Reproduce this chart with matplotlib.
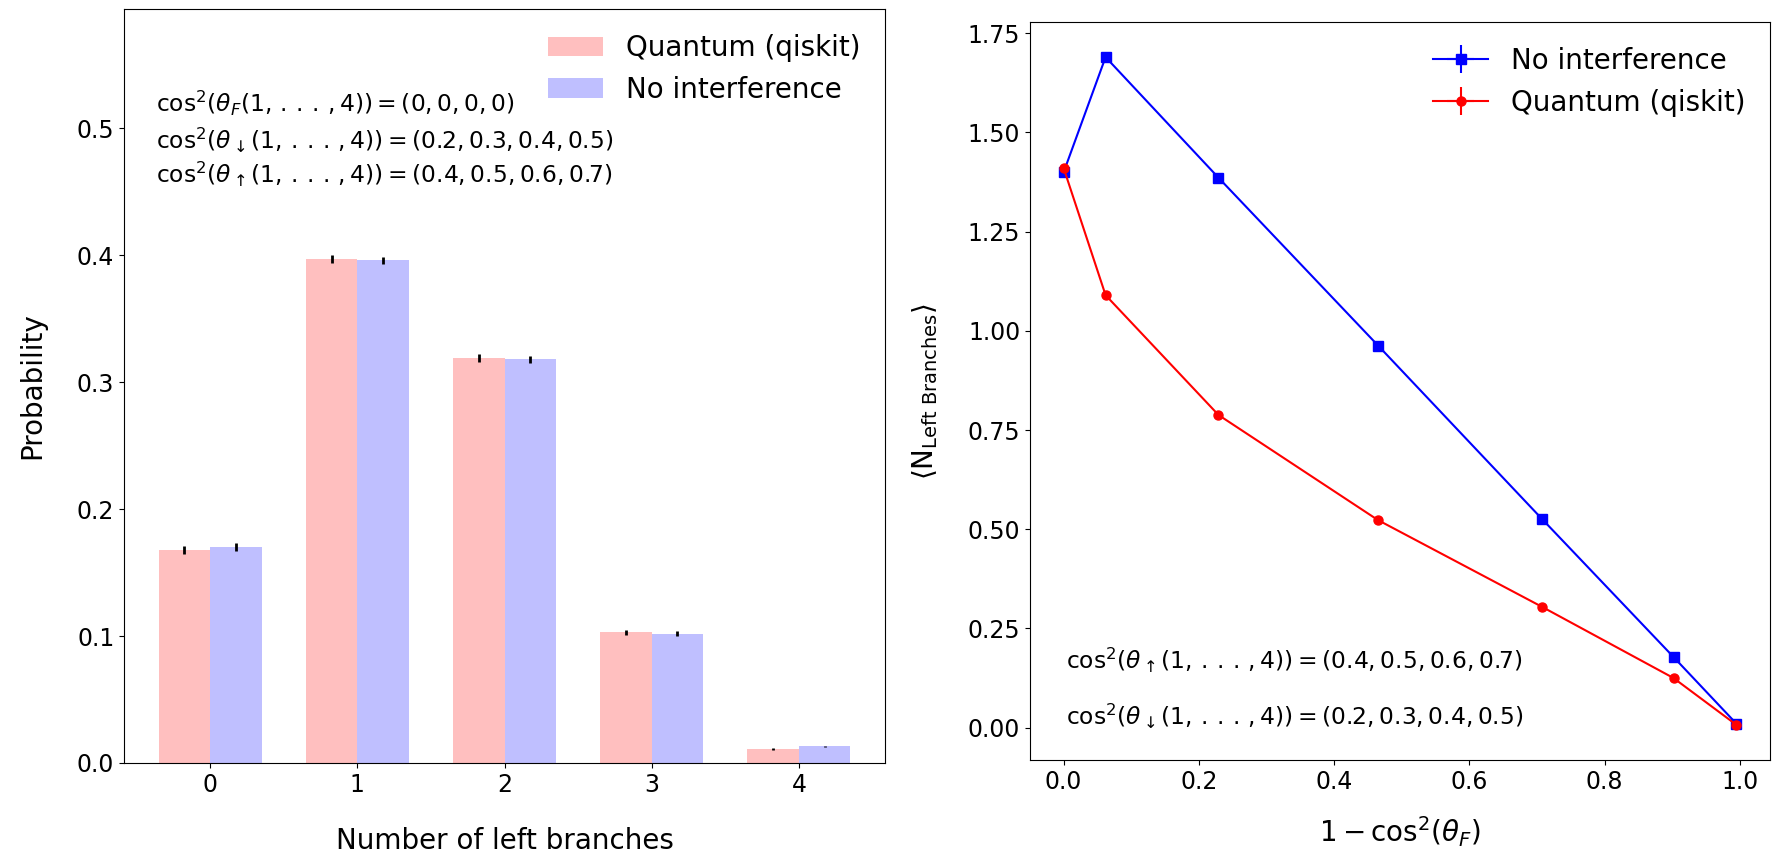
import numpy as np
import matplotlib
matplotlib.use("Agg")
import matplotlib.pyplot as plt

# ---- Left panel data ----
branches = [0, 1, 2, 3, 4]
prob_quantum = [0.168, 0.397, 0.319, 0.103, 0.011]
prob_quantum_err = [0.003, 0.003, 0.003, 0.002, 0.0005]
prob_noint = [0.170, 0.396, 0.318, 0.102, 0.013]
prob_noint_err = [0.003, 0.003, 0.003, 0.002, 0.0005]

# ---- Right panel data ----
one_minus_cos2F = [0.0, 0.062, 0.229, 0.465, 0.708, 0.902, 0.995]
n_left_noint = [1.400, 1.690, 1.386, 0.963, 0.525, 0.178, 0.010]
n_left_quantum = [1.410, 1.090, 0.788, 0.523, 0.304, 0.125, 0.007]
n_err = [0.004, 0.004, 0.004, 0.004, 0.004, 0.004, 0.004]
x_err = [0.0, 0.0, 0.0, 0.0, 0.0, 0.0, 0.0]

fig = plt.figure(figsize=(17.75, 8.52), dpi=100)
ax1 = fig.add_axes([0.0699, 0.1045, 0.4287, 0.8849])
ax2 = fig.add_axes([0.5803, 0.108, 0.4169, 0.8662])

TICK = 17
LEG = 20
LAB = 20
ANN = 16.8

DOTS = r'1,\,.\,.\,.\,,4'

w = 0.35
x = np.array(branches)
ax1.bar(x - w / 2, prob_quantum, w, color='r', alpha=0.25, yerr=prob_quantum_err,
        error_kw=dict(ecolor='black', elinewidth=2, alpha=1), label='Quantum (qiskit)')
ax1.bar(x + w / 2, prob_noint, w, color='b', alpha=0.25, yerr=prob_noint_err,
        error_kw=dict(ecolor='black', elinewidth=2, alpha=1), label='No interference')
ax1.set_xticks(branches)
ax1.set_ylim(0, 0.594)
ax1.set_yticks([0.0, 0.1, 0.2, 0.3, 0.4, 0.5])
ax1.tick_params(labelsize=TICK)
ax1.set_xlabel('Number of left branches', fontsize=LAB, labelpad=22)
ax1.set_ylabel('Probability', fontsize=LAB, labelpad=22)
ax1.legend(fontsize=LEG, frameon=False, loc='upper right')
ax1.text(0.042, 0.875, r'$\mathrm{cos}^2(\theta_F(' + DOTS + r'))=(0,0,0,0)$', transform=ax1.transAxes,
         fontsize=ANN, va='center')
ax1.text(0.042, 0.826, r'$\mathrm{cos}^2(\theta_\downarrow(' + DOTS + r'))=(0.2,0.3,0.4,0.5)$',
         transform=ax1.transAxes, fontsize=ANN, va='center')
ax1.text(0.042, 0.78, r'$\mathrm{cos}^2(\theta_\uparrow(' + DOTS + r'))=(0.4,0.5,0.6,0.7)$',
         transform=ax1.transAxes, fontsize=ANN, va='center')

ax2.errorbar(one_minus_cos2F, n_left_noint, yerr=n_err, xerr=x_err, color='b', marker='s',
             markersize=6.5, lw=1.5, label='No interference')
ax2.errorbar(one_minus_cos2F, n_left_quantum, yerr=n_err, xerr=x_err, color='r', marker='o',
             markersize=6.5, lw=1.5, label='Quantum (qiskit)')
ax2.tick_params(labelsize=TICK)
ax2.set_xlabel(r'$1-\mathrm{cos}^2(\theta_F)$', fontsize=LAB, labelpad=15)
ax2.set_ylabel(r'$\langle \mathrm{N}_{\mathrm{Left\ Branches}}\rangle$', fontsize=LAB, labelpad=20)
ax2.legend(fontsize=LEG, frameon=False, loc='upper right')
ax2.text(0.003, 0.17, r'$\mathrm{cos}^2(\theta_\uparrow(' + DOTS + r'))=(0.4,0.5,0.6,0.7)$',
         fontsize=ANN, va='center')
ax2.text(0.003, 0.0275, r'$\mathrm{cos}^2(\theta_\downarrow(' + DOTS + r'))=(0.2,0.3,0.4,0.5)$',
         fontsize=ANN, va='center')

fig.savefig('out.png', dpi=100)
